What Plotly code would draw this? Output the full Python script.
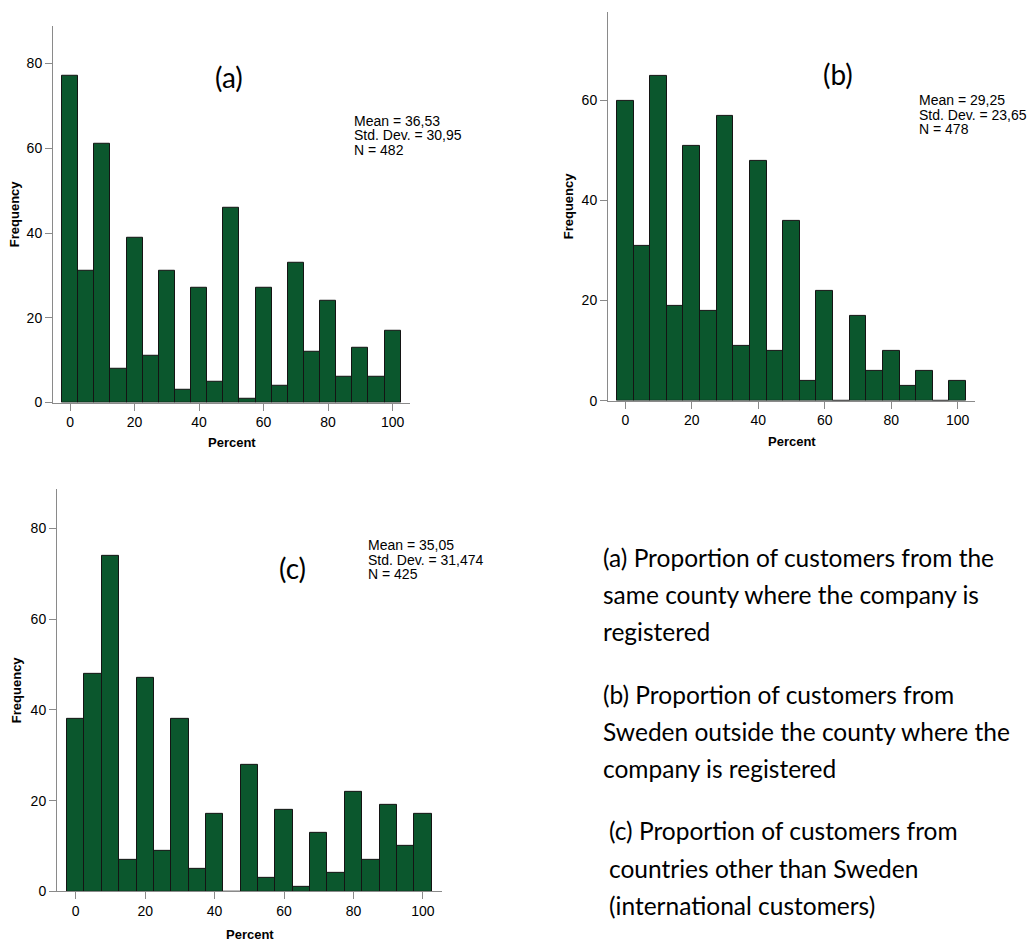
import plotly.graph_objects as go

W, H = 1031, 950

# Histogram data: bin centres (width 5) and frequencies per panel
bin_centers = list(range(0, 101, 5))
freq_a = [77, 31, 61, 8, 39, 11, 31, 3, 27, 5, 46, 1, 27, 4, 33, 12, 24, 6, 13, 6, 17]
freq_b = [60, 31, 65, 19, 51, 18, 57, 11, 48, 10, 36, 4, 22, 0, 17, 6, 10, 3, 6, 0, 4]
freq_c = [38, 48, 74, 7, 47, 9, 38, 5, 17, 0, 28, 3, 18, 1, 13, 4, 22, 7, 19, 10, 17]

panel_labels = ["(a)", "(b)", "(c)"]
stats_a = ["Mean = 36,53", "Std. Dev. = 30,95", "N = 482"]
stats_b = ["Mean = 29,25", "Std. Dev. = 23,65", "N = 478"]
stats_c = ["Mean = 35,05", "Std. Dev. = 31,474", "N = 425"]

x_ticks = [0, 20, 40, 60, 80, 100]
y_ticks_a = [0, 20, 40, 60, 80]
y_ticks_b = [0, 20, 40, 60]
y_ticks_c = [0, 20, 40, 60, 80]
x_title = "Percent"
y_title = "Frequency"

captions = [
    ["(a) Proportion of customers from the", "same county where the company is", "registered"],
    ["(b) Proportion of customers from", "Sweden outside the county where the", "company is registered"],
    ["(c) Proportion of customers from", "countries other than Sweden", "(international customers)"],
]

BAR_COLOR = "#0b572d"
EDGE_COLOR = "#141414"
AXIS_COLOR = "#8a8a8a"
TICK_FONT = dict(family="Liberation Sans, Arial", size=14, color="#000")
TITLE_FONT = dict(family="Liberation Sans, Arial", size=13, color="#000", weight="bold")
STAT_FONT = dict(family="Liberation Sans, Arial", size=14, color="#000")
LABEL_FONT = dict(family="Lato, Open Sans", size=28, color="#000")
CAPTION_FONT = dict(family="Lato, Open Sans", size=24.5, color="#000")


def px_x(p):
    return p / W


def px_y(p):
    return 1 - p / H


# pixel boxes (left, top, right, bottom), axis ranges, label/stat anchors
panels = [
    dict(freq=freq_a, box=(53, 26, 410, 406), xr=(-5.3, 105.4), yr=(0, 88.9),
         yt=y_ticks_a, label=panel_labels[0], label_at=(229, 78),
         stats=stats_a, stats_at=(352, 122), ytitle_x=14, xtitle_y=446),
    dict(freq=freq_b, box=(608, 12, 975, 404), xr=(-5.2, 105.2), yr=(0, 77.7),
         yt=y_ticks_b, label=panel_labels[1], label_at=(838, 75),
         stats=stats_b, stats_at=(917, 101), ytitle_x=568, xtitle_y=445),
    dict(freq=freq_c, box=(57, 493, 442, 899), xr=(-5.4, 105.5), yr=(0, 88.7),
         yt=y_ticks_c, label=panel_labels[2], label_at=(292, 573),
         stats=stats_c, stats_at=(366, 550), ytitle_x=16, xtitle_y=942),
]

fig = go.Figure()
annotations = []
layout_axes = {}

for i, p in enumerate(panels, start=1):
    sfx = "" if i == 1 else str(i)
    fig.add_trace(go.Bar(
        x=bin_centers, y=p["freq"], width=5,
        marker=dict(color=BAR_COLOR, line=dict(color=EDGE_COLOR, width=1)),
        xaxis="x" + sfx, yaxis="y" + sfx, showlegend=False, hoverinfo="x+y",
    ))
    l, t, r, b = p["box"]
    layout_axes["xaxis" + sfx] = dict(
        domain=[px_x(l), px_x(r)], range=list(p["xr"]), anchor="y" + sfx,
        tickvals=x_ticks, ticks="outside", ticklen=7, tickcolor=AXIS_COLOR,
        showline=True, linecolor=AXIS_COLOR, linewidth=1, showgrid=False,
        zeroline=False, tickfont=TICK_FONT, fixedrange=True,
    )
    layout_axes["yaxis" + sfx] = dict(
        domain=[px_y(b), px_y(t)], range=list(p["yr"]), anchor="x" + sfx,
        tickvals=p["yt"], ticks="outside", ticklen=7, tickcolor=AXIS_COLOR,
        showline=True, linecolor=AXIS_COLOR, linewidth=1, showgrid=False,
        zeroline=False, tickfont=TICK_FONT, fixedrange=True,
    )
    # axis titles
    annotations.append(dict(
        text=x_title, x=px_x((l + r) / 2), y=px_y(p["xtitle_y"]), xref="paper", yref="paper",
        xanchor="center", yanchor="middle", showarrow=False, font=TITLE_FONT,
    ))
    annotations.append(dict(
        text=y_title, x=px_x(p["ytitle_x"]), y=px_y((t + b) / 2), xref="paper", yref="paper",
        xanchor="center", yanchor="middle", showarrow=False, font=TITLE_FONT, textangle=-90,
    ))
    # panel letter
    lx, ly = p["label_at"]
    annotations.append(dict(
        text=p["label"], x=px_x(lx), y=px_y(ly), xref="paper", yref="paper",
        xanchor="center", yanchor="middle", showarrow=False, font=LABEL_FONT,
    ))
    # summary statistics block
    sx, sy = p["stats_at"]
    for k, line in enumerate(p["stats"]):
        annotations.append(dict(
            text=line, x=px_x(sx), y=px_y(sy + k * 14.5), xref="paper", yref="paper",
            xanchor="left", yanchor="middle", showarrow=False, font=STAT_FONT,
        ))

# caption paragraphs on the lower right
para_tops = [562, 700, 838]
para_left = [601, 601, 607]
for para, top, left in zip(captions, para_tops, para_left):
    for k, line in enumerate(para):
        annotations.append(dict(
            text=line, x=px_x(left), y=px_y(top + k * 37.5), xref="paper", yref="paper",
            xanchor="left", yanchor="middle", showarrow=False, font=CAPTION_FONT,
        ))

fig.update_layout(
    width=W, height=H, margin=dict(l=0, r=0, t=0, b=0),
    paper_bgcolor="white", plot_bgcolor="white",
    bargap=0, annotations=annotations, **layout_axes,
)

fig.write_html("out.html")
